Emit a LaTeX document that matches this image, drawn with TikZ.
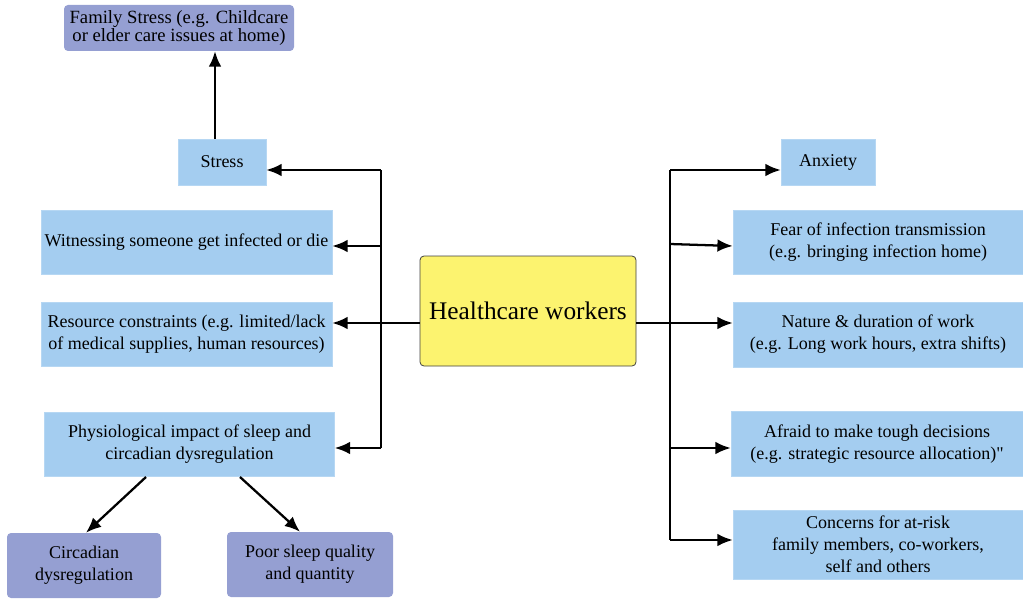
\documentclass[tikz,border=0pt]{standalone}
\usepackage{fontspec}
\setmainfont{Liberation Serif}
\newfontfamily\boxfont{Liberation Serif}
\usetikzlibrary{arrows.meta}
\definecolor{boxblue}{HTML}{A4CDF0}
\definecolor{boxpurple}{HTML}{959FD2}
\definecolor{boxyellow}{HTML}{FCF36F}
\tikzset{
  base/.style={inner sep=2pt, align=center, font=\boxfont\fontsize{13.5}{16.5}\selectfont},
  bluebox/.style={base, fill=boxblue, draw=boxblue!80!white},
  purplebox/.style={base, fill=boxpurple, rounded corners=3pt},
  mainbox/.style={base, fill=boxyellow, draw=black!75, line width=0.6pt, rounded corners=3pt,
    font=\boxfont\fontsize{19}{22}\selectfont},
  arr/.style={-{Latex[length=11.5pt,width=9.5pt]}, line width=1.7pt},
  link/.style={line width=1.7pt},
}
\begin{document}
\begin{tikzpicture}[x=0.75pt,y=-0.75pt]
\useasboundingbox (0,0) rectangle (1023,599);

% left column
\node[purplebox, minimum width={230*0.75pt}, minimum height={46*0.75pt},
  font=\boxfont\fontsize{14}{11.5}\selectfont] (fam) at (179,28)
  {Family Stress (e.g. Childcare\\or elder care issues at home)};
\node[bluebox, minimum width={88*0.75pt}, minimum height={46*0.75pt}] (stress) at (222,162) {Stress};
\node[bluebox, minimum width={291*0.75pt}, minimum height={64*0.75pt}] (wit) at (186.5,242)
  {Witnessing someone get infected or die};
\node[bluebox, minimum width={291*0.75pt}, minimum height={64*0.75pt}] (res) at (186.5,334)
  {Resource constraints (e.g. limited/lack\\of medical supplies, human resources)};
\node[bluebox, minimum width={290*0.75pt}, minimum height={64*0.75pt}] (phys) at (189.5,444)
  {Physiological impact of sleep and\\circadian dysregulation};
\node[purplebox, minimum width={154*0.75pt}, minimum height={65*0.75pt}] (circ) at (84,565.5)
  {Circadian\\dysregulation};
\node[purplebox, minimum width={166*0.75pt}, minimum height={65*0.75pt}] (poor) at (310,564.5)
  {Poor sleep quality\\and quantity};

% centre
\node[mainbox, minimum width={216*0.75pt}, minimum height={110*0.75pt}] (hcw) at (528,311)
  {Healthcare workers};

% right column
\node[bluebox, minimum width={94*0.75pt}, minimum height={46*0.75pt}] (anx) at (828,162) {Anxiety};
\node[bluebox, minimum width={290*0.75pt}, minimum height={64*0.75pt}] (fear) at (878,242)
  {Fear of infection transmission\\(e.g. bringing infection home)};
\node[bluebox, minimum width={290*0.75pt}, minimum height={65*0.75pt}] (nat) at (878,334.5)
  {Nature \& duration of work\\(e.g. Long work hours, extra shifts)};
\node[bluebox, minimum width={292*0.75pt}, minimum height={65*0.75pt}] (afr) at (877,444)
  {Afraid to make tough decisions\\(e.g. strategic resource allocation)"};
\node[bluebox, minimum width={290*0.75pt}, minimum height={69*0.75pt}] (conc) at (878,544.5)
  {Concerns for at-risk\\family members, co-workers,\\self and others};

% junction points of the two buses
\coordinate (lt) at (381,170);
\coordinate (lb) at (381,448);
\coordinate (rt) at (670,170);
\coordinate (rb) at (670,540);

% stress to family stress
\draw[arr] (stress.north -| 215,0) -- (fam.south -| 215,0);

% left bus
\draw[link] (lb) -- (lt);
\draw[arr] (lt) -- (stress.east |- lt);
\draw[arr] (381,246) -- (wit.east |- 0,246);
\draw[arr] (hcw.west |- 0,323) -- (res.east |- 0,323);
\draw[arr] (lb) -- (phys.east |- lb);

% sleep branches
\draw[arr] (146,477) -- (circ.north -| 86,0);
\draw[arr] (240,477) -- (poor.north -| 300,0);

% right bus
\draw[link] (rt) -- (rb);
\draw[arr] (rt) -- (anx.west |- rt);
\draw[arr] (670,244) -- (fear.west |- 0,246);
\draw[arr] (hcw.east |- 0,323) -- (nat.west |- 0,323);
\draw[arr] (670,448) -- (afr.west |- 0,448);
\draw[arr] (rb) -- (conc.west |- rb);
\end{tikzpicture}
\end{document}
